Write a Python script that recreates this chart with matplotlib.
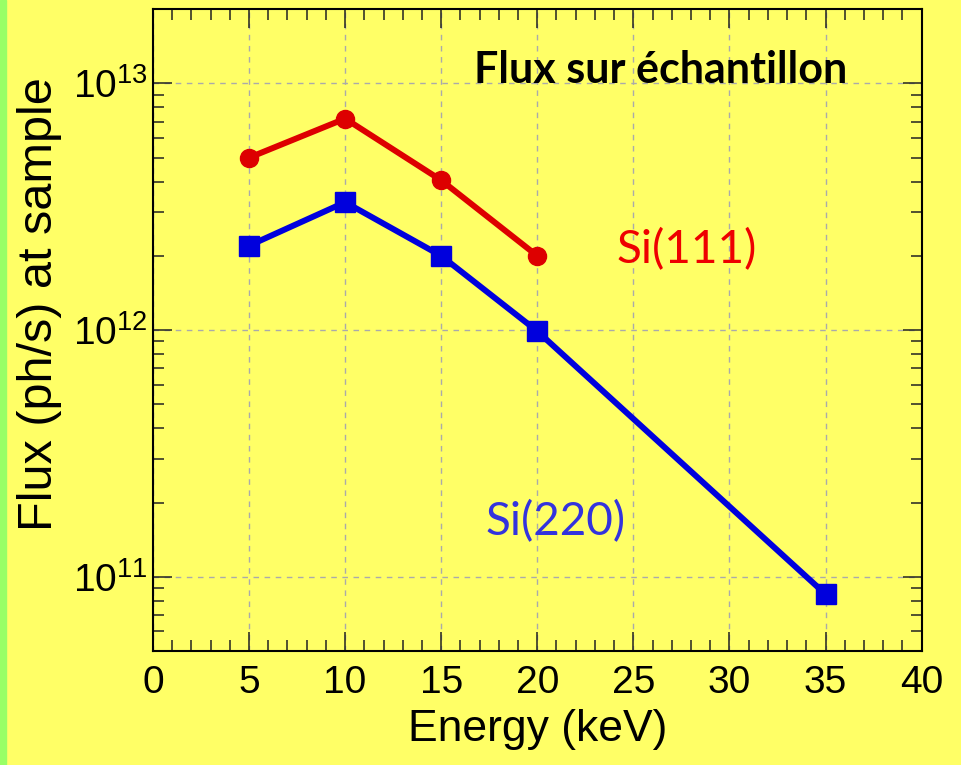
import matplotlib
matplotlib.use("Agg")
import matplotlib.pyplot as plt
from matplotlib.ticker import MultipleLocator, LogLocator, NullFormatter, FixedLocator

# flux at sample vs energy for the two monochromator crystals
energy_111 = [5, 10, 15, 20]
flux_111 = [5.0e12, 7.2e12, 4.05e12, 2.0e12]

energy_220 = [5, 10, 15, 20, 35]
flux_220 = [2.2e12, 3.3e12, 2.0e12, 0.99e12, 8.5e10]

yticks = [1e11, 1e12, 1e13]
ytick_labels = [r"$\mathregular{10^{11}}$", r"$\mathregular{10^{12}}$", r"$\mathregular{10^{13}}$"]

bg = "#ffff66"
plt.rcParams["font.family"] = ["Liberation Sans", "DejaVu Sans"]
plt.rcParams["mathtext.fontset"] = "custom"
plt.rcParams["mathtext.rm"] = "Liberation Sans"

fig = plt.figure(figsize=(9.62, 7.65), dpi=100, facecolor=bg)
ax = fig.add_axes([0.159, 0.149, 0.799, 0.839])
ax.set_facecolor(bg)

# thin green strip on the left edge
fig.patches.append(plt.Rectangle((0, 0), 0.006, 1, transform=fig.transFigure,
                                 color="#99ff66", zorder=0))

ax.plot(energy_111, flux_111, color="#dd0000", lw=4.3, marker="o", ms=13, zorder=3)
ax.plot(energy_220, flux_220, color="#0000dd", lw=4.3, marker="s", ms=14, zorder=3)

ax.set_yscale("log")
ax.set_xlim(0, 40)
ax.set_ylim(5e10, 2e13)

ax.xaxis.set_major_locator(MultipleLocator(5))
ax.xaxis.set_minor_locator(MultipleLocator(1))
ax.yaxis.set_major_locator(FixedLocator(yticks))
ax.set_yticklabels(ytick_labels)
ax.yaxis.set_minor_locator(LogLocator(base=10, subs=range(2, 10)))
ax.yaxis.set_minor_formatter(NullFormatter())

ax.tick_params(which="both", direction="in", top=True, right=True, width=1.1, color="#222222")
ax.tick_params(which="major", length=14, labelsize=28, pad=10)
ax.tick_params(axis="y", which="major", pad=4)
ax.tick_params(which="minor", length=8)

ax.grid(True, which="major", ls=(0, (4, 4)), color="#aaaaaa", lw=1)
for s in ax.spines.values():
    s.set_linewidth(1.5)

ax.set_xlabel("Energy (keV)", fontsize=32, labelpad=6)
ax.set_ylabel("Flux (ph/s) at sample", fontsize=35)
ax.yaxis.set_label_coords(-0.118, 0.54)

ax.text(26.4, 1.13e13, "Flux sur échantillon", fontsize=31, fontweight="bold",
        ha="center", va="center", family=["Lato", "DejaVu Sans"])
ax.text(27.8, 2.11e12, "Si(111)", fontsize=33, color="#ee0000",
        ha="center", va="center", family=["Lato", "DejaVu Sans"])
ax.text(20.96, 1.67e11, "Si(220)", fontsize=33, color="#3333dd",
        ha="center", va="center", family=["Lato", "DejaVu Sans"])

fig.savefig("out.png", dpi=100, facecolor=bg)
